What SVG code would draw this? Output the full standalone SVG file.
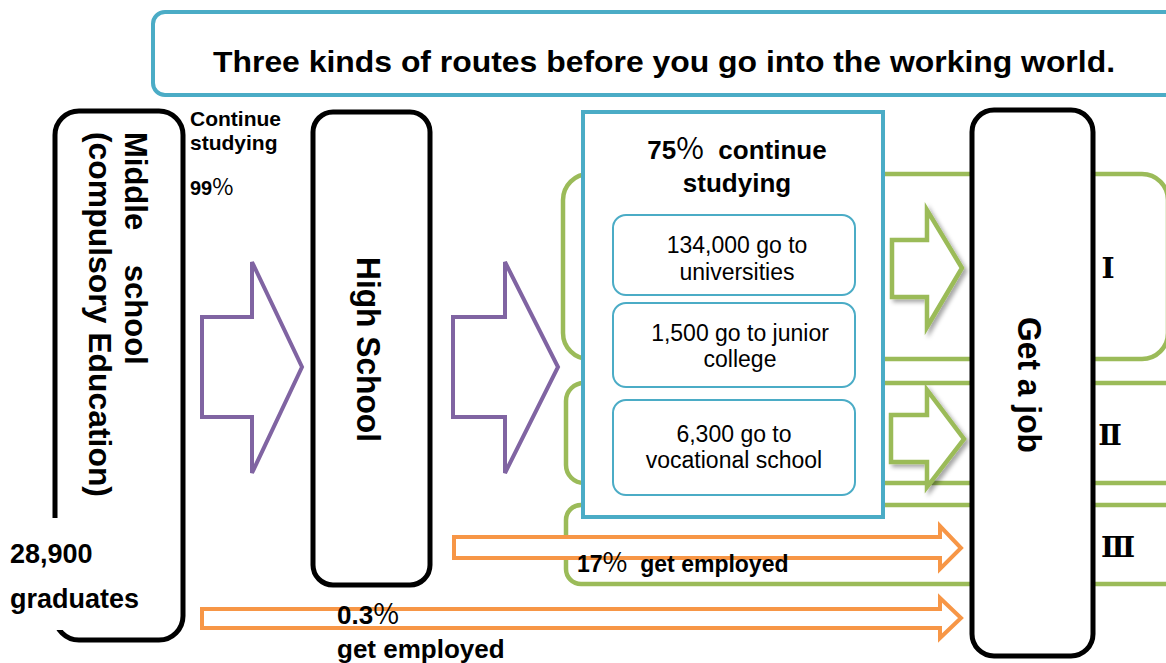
<svg xmlns="http://www.w3.org/2000/svg" width="1166" height="663" viewBox="0 0 1166 663">
<defs>
<style>
.blk{fill:#fff;stroke:#000;stroke-width:5}
.teal{fill:#fff;stroke:#4BACC6;stroke-width:4}
.teal2{fill:#fff;stroke:#4BACC6;stroke-width:2}
.grn{fill:none;stroke:#9BBB59;stroke-width:4.5}
.garr{fill:#fff;stroke:#9BBB59;stroke-width:4.5;filter:url(#sh)}
.parr{fill:#fff;stroke:#8064A2;stroke-width:4}
.oarr{fill:#fff;stroke:#F79646;stroke-width:4}
text{font-family:"Liberation Sans",Arial,sans-serif;fill:#000}
.b{font-weight:bold}
.pc{font-family:"Noto Sans CJK JP","Liberation Sans",sans-serif;font-weight:normal}
.rn{font-family:"DejaVu Serif","Liberation Serif",serif;font-weight:bold;font-size:28px}
</style>
<filter id="sh" x="-20%" y="-20%" width="150%" height="150%">
<feDropShadow dx="3" dy="3" stdDeviation="2" flood-color="#000" flood-opacity="0.35"/>
</filter>
</defs>
<rect width="1166" height="663" fill="#fff"/>

<g id="title">
<rect x="153" y="12" width="1040" height="83" rx="12" class="teal"/>
<text x="213" y="72" class="b" font-size="30" textLength="902" lengthAdjust="spacingAndGlyphs">Three kinds of routes before you go into the working world.</text>
</g>

<g id="brackets">
<rect x="563" y="174" width="605" height="185" rx="26" class="grn"/>
<rect x="566" y="383" width="620" height="100" rx="18" class="grn"/>
<rect x="566" y="505" width="620" height="79" rx="15" class="grn"/>
</g>

<g id="middle-school">
<rect x="55" y="111" width="128" height="529" rx="24" class="blk"/>
<rect x="0" y="518" width="150" height="112" fill="#fff"/>
<text transform="translate(125,132) rotate(90)" class="b" font-size="31" style="word-spacing:26px">Middle school</text>
<text transform="translate(89,132) rotate(90)" class="b" font-size="31" textLength="365" lengthAdjust="spacingAndGlyphs">(compulsory Education)</text>
<text x="10" y="563" class="b" font-size="27">28,900</text>
<text x="10" y="608" class="b" font-size="27">graduates</text>
</g>

<g id="high-school">
<rect x="313" y="112" width="117" height="473" rx="20" class="blk"/>
<text transform="translate(357,257) rotate(90)" class="b" font-size="33" textLength="185" lengthAdjust="spacingAndGlyphs">High School</text>
</g>

<g id="continue-studying">
<rect x="583" y="112" width="300" height="405" class="teal"/>
<text x="737" y="159" class="b" font-size="26" text-anchor="middle" xml:space="preserve">75<tspan class="pc" font-size="30">%</tspan>  continue</text>
<text x="737" y="192" class="b" font-size="26" text-anchor="middle">studying</text>
</g>

<g id="universities">
<rect x="613" y="215" width="242" height="80" rx="13" class="teal2"/>
<text x="737" y="253" font-size="23" text-anchor="middle">134,000 go to</text>
<text x="737" y="280" font-size="23" text-anchor="middle">universities</text>
</g>

<g id="junior-college">
<rect x="613" y="303" width="242" height="84" rx="13" class="teal2"/>
<text x="740" y="341" font-size="23" text-anchor="middle">1,500 go to junior</text>
<text x="740" y="367" font-size="23" text-anchor="middle">college</text>
</g>

<g id="vocational-school">
<rect x="613" y="400" width="242" height="95" rx="13" class="teal2"/>
<text x="734" y="442" font-size="23" text-anchor="middle">6,300 go to</text>
<text x="734" y="468" font-size="23" text-anchor="middle">vocational school</text>
</g>

<g id="get-a-job">
<rect x="972" y="110" width="121" height="546" rx="22" class="blk"/>
<text transform="translate(1018,317) rotate(90)" class="b" font-size="33" textLength="136" lengthAdjust="spacingAndGlyphs">Get a job</text>
</g>

<g id="route-labels">
<text x="1108" y="278" class="rn" text-anchor="middle">Ⅰ</text>
<text x="1110" y="445" class="rn" text-anchor="middle">Ⅱ</text>
<text x="1118" y="557" class="rn" text-anchor="middle">Ⅲ</text>
</g>

<g id="connectors">
<polygon class="parr" points="202,317 252,317 252,262 302,367 252,473 252,417 202,417"/>
<polygon class="parr" points="453,317 505,317 505,262 558,367 505,473 505,417 453,417"/>
<polygon class="garr" points="892,240 927,240 927,210 962,268 927,327 927,297 892,297"/>
<polygon class="garr" points="891,415 927,415 927,390 964,439 927,487 927,462 891,462"/>
<polygon class="oarr" points="454,537 940,537 940,526 961,548 940,569 940,558 454,558"/>
<polygon class="oarr" points="202,609 940,609 940,598 961,618 940,638 940,628 202,628"/>
</g>

<g id="flow-labels">
<text x="190" y="126" class="b" font-size="21">Continue</text>
<text x="190" y="150" class="b" font-size="21">studying</text>
<text x="190" y="195" class="b" font-size="20">99<tspan class="pc" font-size="23">%</tspan></text>
<text x="577" y="572" class="b" font-size="23" xml:space="preserve">17<tspan class="pc" font-size="27">%</tspan>  get employed</text>
<text x="337" y="624" class="b" font-size="26">0.3<tspan class="pc" font-size="28">%</tspan></text>
<text x="337" y="658" class="b" font-size="26">get employed</text>
</g>
</svg>
